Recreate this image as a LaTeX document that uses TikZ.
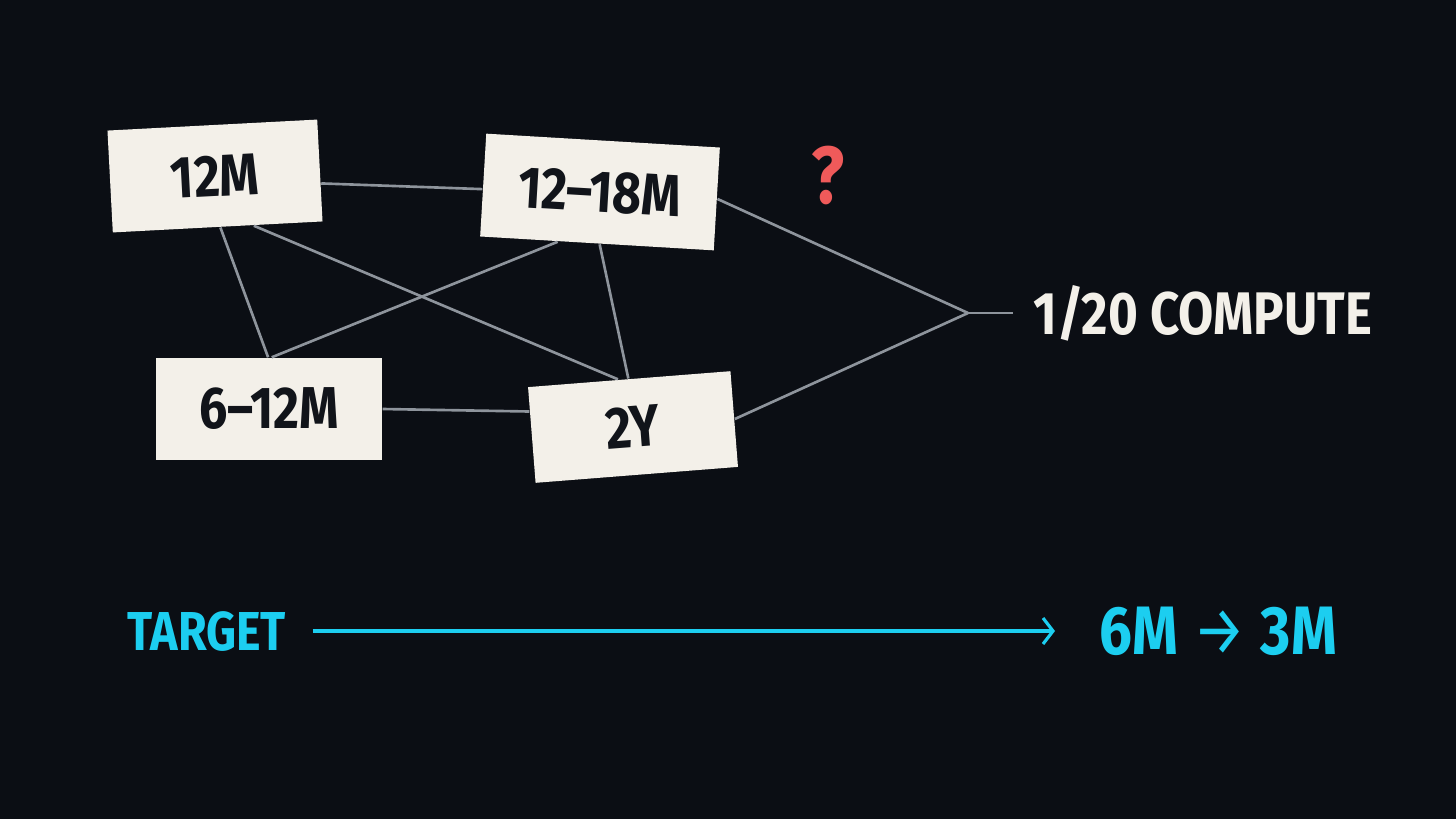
\documentclass[tikz,border=0pt]{standalone}
\usepackage{fontspec}
\newfontfamily\condfont{Fira Sans}[FakeStretch=0.85]
\usepackage{xcolor}
\usetikzlibrary{arrows.meta}
\usetikzlibrary{math}

\definecolor{bgnavy}{RGB}{11,14,20}
\definecolor{cardcream}{RGB}{243,240,233}
\definecolor{inkdark}{RGB}{17,20,26}
\definecolor{linkgray}{RGB}{142,148,156}
\definecolor{targetcyan}{RGB}{28,206,240}
\definecolor{askred}{RGB}{239,90,90}

\begin{document}
\begin{tikzpicture}[
  card/.style={fill=cardcream, text=inkdark, inner sep=0pt,
    font=\condfont\bfseries\fontsize{16.8}{18}\selectfont},
  link/.style={draw=linkgray, line width=0.75pt},
  label/.style={inner sep=0pt, anchor=west, font=\condfont\bfseries\fontsize{#1}{20}\selectfont},
]
\tikzmath{
\W=14.56; \H=8.19;
}
\fill[bgnavy] (0,0) rectangle (\W,\H);

% the four cards
\node[card, minimum width=2.10cm, minimum height=1.02cm, rotate=3] (m12) at (2.15,6.43) {12M};
\node[card, minimum width=2.34cm, minimum height=1.03cm, rotate=-3.4] (m1218) at (6.00,6.27) {12–18M};
\node[card, minimum width=2.26cm, minimum height=1.02cm] (m612) at (2.69,4.10) {6–12M};
\node[card, minimum width=2.03cm, minimum height=0.96cm, rotate=4.5] (y2) at (6.33,3.92) {2Y};

% links between cards
\draw[link] (m12.-7) -- (m1218.182);
\draw[link] (m12.-87) -- (m612.91);
\draw[link] (m12.-55) -- (y2.103);
\draw[link] (m1218.233) -- (m612.87);
\draw[link] (m1218.-87) -- (y2.91);
\draw[link] (m612.0) -- (y2.167);

% merge into the budget
\coordinate (join) at (9.68,5.06);
\node[label=17.1, text=cardcream] (compute) at (10.33,5.06) {1/20 COMPUTE};
\draw[link] (m1218.east) -- (join);
\draw[link] (y2.east) -- (join);
\draw[link, shorten >=0.20cm] (join) -- (compute.west);

\node[label=23, text=askred, anchor=center] (ask) at (8.28,6.44) {?};

% target row
\node[label=15.6, text=targetcyan] (target) at (1.27,1.88) {TARGET};
\node[label=19.5, text=targetcyan] (goal) at (10.99,1.88)
  {6M\hspace{0.15cm}{\mdseries→}\hspace{0.15cm}3M};
\draw[targetcyan, line width=0.9pt, shorten <=0.26cm, shorten >=0.44cm,
  -{Straight Barb[length=1mm, width=2.6mm, line width=0.9pt]}] (target.east) -- (goal.west);
\end{tikzpicture}
\end{document}
